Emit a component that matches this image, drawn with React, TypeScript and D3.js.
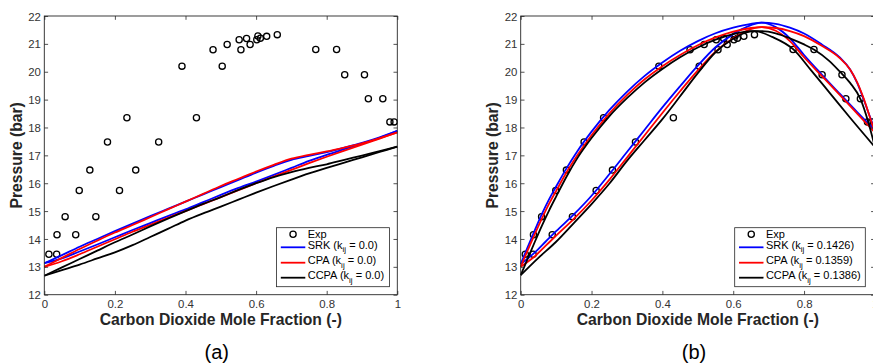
import React, { useEffect, useRef } from "react";
import * as d3 from "d3";

// ---------- data ----------
const expX = [0.013, 0.035, 0.036, 0.059, 0.089, 0.099, 0.129, 0.146, 0.179, 0.213, 0.234, 0.259, 0.324, 0.39, 0.431, 0.478, 0.504, 0.518, 0.552, 0.557, 0.573, 0.583, 0.602, 0.605, 0.612, 0.63, 0.66, 0.769, 0.828, 0.851, 0.907, 0.918, 0.959, 0.979, 0.991];
const expP = [13.45, 13.45, 14.15, 14.8, 14.15, 15.74, 16.47, 14.8, 17.48, 15.74, 18.35, 16.47, 17.48, 20.2, 18.35, 20.79, 20.2, 20.98, 21.15, 20.79, 21.19, 20.98, 21.15, 21.28, 21.2, 21.27, 21.33, 20.8, 20.8, 19.89, 19.89, 19.03, 19.03, 18.2, 18.2];

const xTicks = [0, 0.2, 0.4, 0.6, 0.8, 1];
const xTickLabels = ["0", "0.2", "0.4", "0.6", "0.8", "1"];
const yTicks = [12, 13, 14, 15, 16, 17, 18, 19, 20, 21, 22];

const modelNames = ["SRK", "CPA", "CCPA"];
const modelColors = ["#0000ff", "#ff0000", "#000000"];
const kijA = ["0.0", "0.0", "0.0"];
const kijB = ["0.1426", "0.1359", "0.1386"];
const panelLabels = ["(a)", "(b)"];

// panel (a): k_ij = 0
const xA = [0, 0.05, 0.1, 0.15, 0.2, 0.25, 0.3, 0.35, 0.4, 0.45, 0.5, 0.55, 0.6, 0.65, 0.7, 0.75, 0.8, 0.85, 0.9, 0.95, 1];
const srkA_bub = [13.13, 13.42, 13.72, 14.0, 14.28, 14.55, 14.82, 15.08, 15.34, 15.6, 15.86, 16.12, 16.38, 16.62, 16.84, 16.98, 17.12, 17.28, 17.45, 17.65, 17.88];
const srkA_dew = [13.13, 13.3, 13.55, 13.8, 14.06, 14.32, 14.57, 14.82, 15.06, 15.32, 15.58, 15.83, 16.06, 16.3, 16.55, 16.8, 17.02, 17.22, 17.42, 17.63, 17.88];
const cpaA_bub = [13.0, 13.32, 13.64, 13.94, 14.23, 14.5, 14.78, 15.06, 15.34, 15.62, 15.9, 16.16, 16.42, 16.66, 16.88, 17.02, 17.14, 17.28, 17.43, 17.62, 17.82];
const cpaA_dew = [13.0, 13.2, 13.45, 13.72, 13.99, 14.26, 14.51, 14.76, 15.0, 15.25, 15.5, 15.75, 16.0, 16.24, 16.48, 16.72, 16.95, 17.17, 17.38, 17.6, 17.82];
const ccpaA_bub = [12.68, 12.98, 13.28, 13.58, 13.88, 14.16, 14.45, 14.73, 15.0, 15.26, 15.5, 15.76, 16.0, 16.22, 16.4, 16.55, 16.68, 16.84, 16.99, 17.15, 17.31];
const ccpaA_dew = [12.68, 12.88, 13.08, 13.3, 13.52, 13.78, 14.07, 14.36, 14.66, 14.92, 15.16, 15.41, 15.66, 15.9, 16.13, 16.35, 16.55, 16.74, 16.93, 17.12, 17.31];

// panel (b): fitted k_ij
const srkB_bubX = [0, 0.02, 0.04, 0.06, 0.08, 0.1, 0.13, 0.16, 0.2, 0.25, 0.3, 0.35, 0.4, 0.45, 0.5, 0.55, 0.6, 0.65, 0.68, 0.72, 0.76, 0.8, 0.85, 0.9, 0.93, 0.95, 0.97, 0.985, 1];
const srkB_bub = [13.1, 13.72, 14.32, 14.9, 15.42, 15.88, 16.55, 17.15, 17.85, 18.62, 19.28, 19.85, 20.33, 20.75, 21.1, 21.38, 21.58, 21.72, 21.76, 21.72, 21.58, 21.37, 20.98, 20.52, 20.08, 19.6, 18.95, 18.42, 17.9];
const cpaB_bub = [13.0, 13.6, 14.18, 14.74, 15.26, 15.72, 16.4, 17.0, 17.72, 18.5, 19.16, 19.73, 20.2, 20.6, 20.95, 21.23, 21.44, 21.57, 21.6, 21.57, 21.46, 21.28, 20.93, 20.5, 20.08, 19.62, 18.98, 18.4, 17.82];
const dewBX = [0, 0.02, 0.04, 0.07, 0.1, 0.15, 0.2, 0.25, 0.3, 0.35, 0.4, 0.45, 0.5, 0.55, 0.6, 0.64, 0.68, 0.72, 0.76, 0.8, 0.85, 0.9, 0.95, 1];
const srkB_dew = [13.1, 13.3, 13.52, 13.9, 14.28, 14.88, 15.55, 16.32, 17.12, 17.92, 18.72, 19.48, 20.22, 20.88, 21.35, 21.62, 21.76, 21.6, 21.2, 20.6, 19.9, 19.22, 18.55, 17.9];
const cpaB_dew = [13.0, 13.18, 13.38, 13.75, 14.12, 14.72, 15.38, 16.12, 16.92, 17.72, 18.52, 19.3, 20.05, 20.72, 21.2, 21.48, 21.6, 21.47, 21.1, 20.52, 19.85, 19.18, 18.5, 17.82];
const ccpaB_bubX = [0, 0.02, 0.04, 0.06, 0.08, 0.1, 0.13, 0.16, 0.2, 0.25, 0.3, 0.35, 0.4, 0.45, 0.5, 0.55, 0.6, 0.65, 0.68, 0.72, 0.76, 0.8, 0.83, 0.87, 0.9, 0.93, 0.96, 0.98, 1];
const ccpaB_bub = [12.7, 13.3, 13.9, 14.48, 15.02, 15.52, 16.25, 16.9, 17.62, 18.4, 19.05, 19.62, 20.1, 20.52, 20.87, 21.15, 21.35, 21.46, 21.46, 21.38, 21.2, 20.98, 20.78, 20.4, 20.02, 19.6, 19.0, 18.25, 17.3];
const ccpaB_dewX = [0, 0.05, 0.1, 0.15, 0.2, 0.25, 0.3, 0.35, 0.4, 0.45, 0.5, 0.55, 0.6, 0.63, 0.66, 0.71, 0.77, 0.82, 0.87, 0.93, 1];
const ccpaB_dew = [12.7, 13.32, 13.9, 14.57, 15.25, 15.98, 16.8, 17.55, 18.3, 19.12, 19.95, 20.7, 21.18, 21.38, 21.46, 21.25, 20.8, 20.05, 19.28, 18.35, 17.3];

const zip = (xs: number[], ys: number[]) => xs.map((x, i) => [x, ys[i]] as [number, number]);

const FONT = "'Liberation Sans', Arial, Helvetica, sans-serif";

export default function App() {
  const ref = useRef<SVGSVGElement | null>(null);

  useEffect(() => {
    const svg = d3.select(ref.current);
    svg.selectAll("*").remove();

    const panels = [
      {
        left: 44.3, right: 397.3, kij: kijA, label: panelLabels[0], labelX: 216.7,
        legend: { x0: 276.5, x1: 389.5 },
        curves: [
          [zip(xA, srkA_bub), zip(xA, srkA_dew)],
          [zip(xA, cpaA_bub), zip(xA, cpaA_dew)],
          [zip(xA, ccpaA_bub), zip(xA, ccpaA_dew)],
        ],
      },
      {
        left: 520.7, right: 874.9, kij: kijB, label: panelLabels[1], labelX: 694,
        legend: { x0: 734.7, x1: 865.3 },
        curves: [
          [zip(srkB_bubX, srkB_bub), zip(dewBX, srkB_dew)],
          [zip(srkB_bubX, cpaB_bub), zip(dewBX, cpaB_dew)],
          [zip(ccpaB_bubX, ccpaB_bub), zip(ccpaB_dewX, ccpaB_dew)],
        ],
      },
    ];

    const top = 16, bottom = 294.7;
    const axisColor = "#262626";

    panels.forEach((p) => {
      const x = d3.scaleLinear().domain([0, 1]).range([p.left, p.right]);
      const y = d3.scaleLinear().domain([12, 22]).range([bottom, top]);
      const g = svg.append("g");

      // white background
      g.append("rect").attr("x", p.left).attr("y", top).attr("width", p.right - p.left).attr("height", bottom - top).attr("fill", "#fff");

      // exp markers
      g.append("g").selectAll("circle").data(zip(expX, expP)).join("circle")
        .attr("cx", (d) => x(d[0])).attr("cy", (d) => y(d[1])).attr("r", 3.1)
        .attr("fill", "none").attr("stroke", "#000").attr("stroke-width", 1.3);

      const line = d3.line<[number, number]>().x((d) => x(d[0])).y((d) => y(d[1])).curve(d3.curveMonotoneX);
      p.curves.forEach((pair, mi) => {
        pair.forEach((c) => {
          g.append("path").attr("d", line(c)).attr("fill", "none")
            .attr("stroke", modelColors[mi]).attr("stroke-width", 1.8);
        });
      });

      // axes (ticks inside, box)
      const tickLen = 3.8;
      const axB = d3.axisBottom(x).tickValues(xTicks).tickSize(-tickLen).tickFormat((_, i) => xTickLabels[i]).tickPadding(2);
      const axT = d3.axisTop(x).tickValues(xTicks).tickSize(-tickLen).tickFormat(() => "");
      const axL = d3.axisLeft(y).tickValues(yTicks).tickSize(-tickLen).tickFormat(d3.format("d")).tickPadding(3.5);
      const axR = d3.axisRight(y).tickValues(yTicks).tickSize(-tickLen).tickFormat(() => "");

      const gb = g.append("g").attr("transform", `translate(0,${bottom})`).call(axB);
      const gt = g.append("g").attr("transform", `translate(0,${top})`).call(axT);
      const gl = g.append("g").attr("transform", `translate(${p.left},0)`).call(axL);
      const gr = g.append("g").attr("transform", `translate(${p.right},0)`).call(axR);
      [gb, gt, gl, gr].forEach((a) => {
        a.select(".domain").remove();
        a.selectAll("line").attr("stroke", axisColor).attr("stroke-width", 0.8);
        a.selectAll("text").attr("fill", "#333").attr("font-family", FONT).attr("font-size", 11.4);
      });
      gb.selectAll("text").attr("dy", null).attr("y", 13.8);
      gl.selectAll("text").attr("dy", "0.36em").attr("x", -3.4);

      g.append("rect").attr("x", p.left).attr("y", top).attr("width", p.right - p.left).attr("height", bottom - top)
        .attr("fill", "none").attr("stroke", axisColor).attr("stroke-width", 0.9);

      // axis labels
      const cx = (p.left + p.right) / 2;
      g.append("text").attr("x", cx).attr("y", 324.5).attr("text-anchor", "middle")
        .attr("font-family", FONT).attr("font-weight", "bold").attr("font-size", 15.7).attr("fill", "#262626")
        .text("Carbon Dioxide Mole Fraction (-)");
      g.append("text").attr("transform", `translate(${p.left - 22.5},${(top + bottom) / 2}) rotate(-90)`)
        .attr("text-anchor", "middle").attr("font-family", FONT).attr("font-weight", "bold").attr("font-size", 15.7).attr("fill", "#262626")
        .text("Pressure (bar)");

      // legend
      const L = p.legend;
      g.append("rect").attr("x", L.x0).attr("y", 227.7).attr("width", L.x1 - L.x0).attr("height", 59)
        .attr("fill", "#fff").attr("stroke", axisColor).attr("stroke-width", 0.8);
      const lx0 = L.x0 + 4.3, lx1 = L.x0 + 28.8, tx = L.x0 + 31.2;
      g.append("circle").attr("cx", (lx0 + lx1) / 2).attr("cy", 234.3).attr("r", 3.1)
        .attr("fill", "none").attr("stroke", "#000").attr("stroke-width", 1.3);
      g.append("text").attr("x", tx).attr("y", 238).attr("font-family", FONT).attr("font-size", 11).attr("fill", "#000").text("Exp");
      const lineYs = [247.3, 262.7, 277.7];
      const textYs = [248.8, 264.2, 279.4];
      modelNames.forEach((name, i) => {
        g.append("line").attr("x1", lx0).attr("x2", lx1).attr("y1", lineYs[i]).attr("y2", lineYs[i])
          .attr("stroke", modelColors[i]).attr("stroke-width", 1.8);
        const t = g.append("text").attr("x", tx).attr("y", textYs[i]).attr("font-family", FONT).attr("font-size", 11)
          .attr("fill", "#000").style("white-space", "pre");
        t.append("tspan").text(`${name} (k`);
        t.append("tspan").attr("dy", 3.6).attr("font-size", 8).text("ij");
        t.append("tspan").attr("dy", -3.6).text(` = ${p.kij[i]})`);
      });

      // panel label
      svg.append("text").attr("x", p.labelX).attr("y", 359).attr("text-anchor", "middle")
        .attr("font-family", FONT).attr("font-size", 20).attr("fill", "#000").text(p.label);
    });
  }, []);

  return (
    <svg ref={ref} width={873} height={364} style={{ position: "absolute", left: 0, top: 0, background: "#fff" }} />
  );
}
